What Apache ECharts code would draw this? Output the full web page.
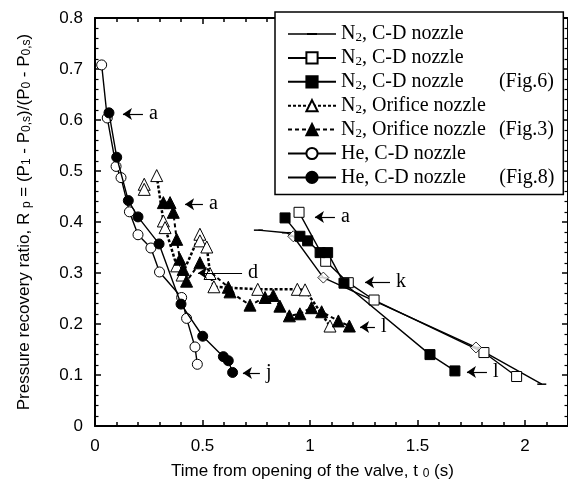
<!DOCTYPE html>
<html>
<head>
<meta charset="utf-8">
<script src="https://cdn.jsdelivr.net/npm/echarts@6/dist/echarts.min.js"></script>
<style>
  html, body { margin: 0; padding: 0; background: #fff; }
  #chart { width: 568px; height: 489px; }
</style>
</head>
<body>
<div id="chart"></div>
<script>
// N2, C-D nozzle (plain line)
var cdLineT = [0.76, 0.89, 0.922, 1.062, 1.772, 2.078];
var cdLineR = [0.384, 0.379, 0.372, 0.291, 0.154, 0.082];
// open diamonds sitting on the plain line
var diamondT = [0.922, 1.062, 1.772];
var diamondR = [0.372, 0.291, 0.154];
// N2, C-D nozzle, open squares
var cdOpenT = [0.949, 1.073, 1.178, 1.298, 1.809, 1.961];
var cdOpenR = [0.419, 0.323, 0.281, 0.247, 0.144, 0.097];
// N2, C-D nozzle (Fig.6), filled squares
var cdFig6T = [0.884, 0.953, 0.989, 1.047, 1.082, 1.158, 1.558, 1.674];
var cdFig6R = [0.408, 0.372, 0.363, 0.340, 0.340, 0.280, 0.140, 0.108];
// N2, Orifice nozzle, open triangles (null = break in the line)
var orOpenT = [0.229, 0.229, null, 0.287, 0.318, 0.326, 0.38, 0.405, 0.488, 0.488, 0.52, 0.535, 0.553, 0.757, 0.941, 0.977, 1.093];
var orOpenR = [0.474, 0.464, null, 0.491, 0.402, 0.389, 0.314, 0.296, 0.376, 0.363, 0.351, 0.299, 0.273, 0.268, 0.268, 0.267, 0.196];
// N2, Orifice nozzle (Fig.3), filled triangles
var orFig3T = [0.318, 0.349, 0.364, 0.38, 0.395, 0.41, 0.426, 0.488, 0.62, 0.628, 0.721, 0.791, 0.829, 0.86, 0.904, 0.953, 1.007, 1.054, 1.132, 1.183];
var orFig3R = [0.438, 0.438, 0.419, 0.366, 0.327, 0.307, 0.284, 0.32, 0.272, 0.263, 0.237, 0.252, 0.256, 0.235, 0.216, 0.22, 0.232, 0.224, 0.206, 0.196];
// He, C-D nozzle, open circles
var heOpenT = [0.031, 0.057, 0.098, 0.121, 0.16, 0.20, 0.26, 0.30, 0.403, 0.426, 0.465, 0.476];
var heOpenR = [0.708, 0.604, 0.509, 0.487, 0.420, 0.375, 0.349, 0.302, 0.252, 0.211, 0.155, 0.121];
// He, C-D nozzle (Fig.8), filled circles
var heFig8T = [0.065, 0.101, 0.155, 0.20, 0.298, 0.40, 0.501, 0.597, 0.62, 0.64];
var heFig8R = [0.614, 0.527, 0.442, 0.410, 0.357, 0.239, 0.176, 0.136, 0.128, 0.105];

// legend texts
var seriesNames = ['cdLine', 'cdOpen', 'cdFig6', 'orOpen', 'orFig3', 'heOpen', 'heFig8'];
var legendGas = ['N', 'N', 'N', 'N', 'N', 'He', 'He'];
var legendSub = ['2', '2', '2', '2', '2', '', ''];
var legendText = [', C-D nozzle', ', C-D nozzle', ', C-D nozzle', ', Orifice nozzle', ', Orifice nozzle', ', C-D nozzle', ', C-D nozzle'];
var legendFig = ['', '', '(Fig.6)', '', '(Fig.3)', '', '(Fig.8)'];

// arrow notes: letter, arrow tip t, arrow tail t, R
var noteLabel = ['a', 'a', 'd', 'a', 'k', 'l', 'l', 'j'];
var noteTipT = [0.130, 0.419, 0.479, 1.023, 1.256, 1.233, 1.730, 0.688];
var noteTailT = [0.223, 0.502, 0.684, 1.116, 1.372, 1.302, 1.823, 0.767];
var noteR = [0.612, 0.435, 0.300, 0.410, 0.282, 0.194, 0.106, 0.104];

// axis ticks
var xMax = 2.2, xMajor = 0.5, xMinor = 0.1;
var yMax = 0.8, yMajor = 0.1;

function pts(t, r) {
    var out = [];
    for (var i = 0; i < t.length; i++) {
        out.push(t[i] === null ? ['-', '-'] : [t[i], r[i]]);
    }
    return out;
}

var sans = 'Liberation Sans';
var serif = 'Liberation Serif';
var black = '#000';

var openItem = {color: '#fff', borderColor: black, borderWidth: 1};
var fillItem = {color: black, borderColor: black, borderWidth: 1};

function xAx(pos, interval, len, main) {
    return {
        type: 'value', position: pos, min: 0, max: xMax, interval: interval,
        axisLine: {show: main, onZero: false, lineStyle: {color: black, width: 2}},
        axisTick: {show: true, inside: true, length: len, lineStyle: {color: black, width: 1.5}},
        axisLabel: {show: false},
        splitLine: {show: false}
    };
}
function yAx(pos) {
    return {
        type: 'value', position: pos, min: 0, max: yMax, interval: yMajor,
        axisLine: {show: true, onZero: false, lineStyle: {color: black, width: 2}},
        axisTick: {show: true, inside: true, length: 6, lineStyle: {color: black, width: 1.5}},
        minorTick: {show: true, splitNumber: 5, length: 3.5, lineStyle: {color: black, width: 1.2}},
        axisLabel: {show: false},
        splitLine: {show: false}
    };
}

var xBottom = xAx('bottom', xMajor, 6, true);
xBottom.axisLabel = {show: true, color: black, fontFamily: sans, fontSize: 17, margin: 12, showMaxLabel: false};
xBottom.name = 'Time from opening of the valve, t {s|0} (s)';
xBottom.nameLocation = 'middle';
xBottom.nameGap = 37;
xBottom.nameTextStyle = {color: black, fontFamily: sans, fontSize: 17, padding: [0, 38, 0, 0],
    rich: {s: {fontFamily: sans, fontSize: 12, color: black, verticalAlign: 'bottom'}}};

var yLeft = yAx('left');
yLeft.axisLabel = {show: true, color: black, fontFamily: sans, fontSize: 17, margin: 12,
    formatter: function (v) { return v === 0 ? '0' : v.toFixed(1); }};
yLeft.name = 'Pressure recovery ratio, R {s|p} = (P{s|1} - P{s|0,s})/(P{s|0} - P{s|0,s})';
yLeft.nameLocation = 'middle';
yLeft.nameGap = 62;
yLeft.nameTextStyle = {color: black, fontFamily: sans, fontSize: 17,
    rich: {s: {fontFamily: sans, fontSize: 12, color: black, verticalAlign: 'bottom'}}};

var series = [
    {name: 'cdLine', type: 'line', data: pts(cdLineT, cdLineR), symbol: 'rect', symbolSize: [9, 1.5],
        lineStyle: {color: black, width: 1.4}, itemStyle: {color: black, borderWidth: 0}, z: 2},
    {name: 'cdOpen', type: 'line', data: pts(cdOpenT, cdOpenR), symbol: 'rect', symbolSize: 10,
        lineStyle: {color: black, width: 1.4}, itemStyle: openItem, z: 3},
    {name: 'cdFig6', type: 'line', data: pts(cdFig6T, cdFig6R), symbol: 'rect', symbolSize: 10,
        lineStyle: {color: black, width: 1.4}, itemStyle: fillItem, z: 4},
    {name: 'orOpen', type: 'line', data: pts(orOpenT, orOpenR), symbol: 'triangle', symbolSize: 12,
        connectNulls: false,
        lineStyle: {color: black, width: 2.5, type: [3, 2]}, itemStyle: openItem, z: 3},
    {name: 'orFig3', type: 'line', data: pts(orFig3T, orFig3R), symbol: 'triangle', symbolSize: 12,
        lineStyle: {color: black, width: 2, type: [4, 3]}, itemStyle: fillItem, z: 4},
    {name: 'heOpen', type: 'line', data: pts(heOpenT, heOpenR), symbol: 'circle', symbolSize: 10,
        lineStyle: {color: black, width: 1.4}, itemStyle: openItem, z: 3},
    {name: 'heFig8', type: 'line', data: pts(heFig8T, heFig8R), symbol: 'circle', symbolSize: 10,
        lineStyle: {color: black, width: 1.4}, itemStyle: fillItem, z: 4},
    {name: 'diamond', type: 'scatter', data: pts(diamondT, diamondR), symbol: 'diamond', symbolSize: 11,
        itemStyle: openItem, z: 3}
];

var notes = [];
for (var i = 0; i < noteLabel.length; i++) {
    notes.push([{name: noteLabel[i], coord: [noteTipT[i], noteR[i]]}, {coord: [noteTailT[i], noteR[i]]}]);
}
series.push({
    name: 'notes', type: 'line', data: [], z: 5,
    itemStyle: {color: black},
    markLine: {
        silent: true, animation: false,
        symbol: ['arrow', 'none'], symbolSize: 9,
        itemStyle: {color: black},
        lineStyle: {color: black, type: 'solid', width: 1.2},
        label: {show: true, position: 'end', distance: 6, formatter: '{b}', color: black,
            fontFamily: serif, fontSize: 20},
        data: notes
    }
});

var legendRich = {
    g: {fontFamily: serif, fontSize: 20, color: black, lineHeight: 20},
    s: {fontFamily: serif, fontSize: 13, color: black, lineHeight: 20, verticalAlign: 'bottom'},
    t: {fontFamily: serif, fontSize: 20, color: black, lineHeight: 20},
    wN: {fontFamily: serif, fontSize: 20, color: black, lineHeight: 20, width: 137},
    wHe: {fontFamily: serif, fontSize: 20, color: black, lineHeight: 20, width: 135},
    f: {fontFamily: serif, fontSize: 20, color: black, lineHeight: 20}
};

// first entry: a plain line with a small dash in the middle
var legendData = seriesNames.map(function (n, i) {
    return i === 0 ? {name: n, icon: 'path://M0,0H48V1.4H0Z M19,-0.4H29V1.8H19Z'} : {name: n};
});

var option = {
    animation: false,
    backgroundColor: '#fff',
    grid: {left: 95, top: 18, right: 0, bottom: 63},
    xAxis: [xBottom, xAx('bottom', xMinor, 4, false), xAx('top', xMajor, 6, true), xAx('top', xMinor, 4, false)],
    yAxis: [yLeft, yAx('right')],
    legend: {
        data: legendData,
        orient: 'vertical',
        left: 275, top: 12,
        padding: [12, 9, 7, 12],
        itemWidth: 48, itemHeight: 14, itemGap: 3.9,
        backgroundColor: '#fff',
        borderColor: black, borderWidth: 1.5,
        selectedMode: false,
        z: 10,
        textStyle: {fontFamily: serif, fontSize: 20, color: black, rich: legendRich},
        formatter: function (name) {
            var i = seriesNames.indexOf(name);
            var s = '{g|' + legendGas[i] + '}';
            if (legendSub[i]) s += '{s|' + legendSub[i] + '}';
            if (legendFig[i]) {
                s += '{' + (legendSub[i] ? 'wN' : 'wHe') + '|' + legendText[i] + '}{f|' + legendFig[i] + '}';
            } else {
                s += '{t|' + legendText[i] + '}';
            }
            return s;
        }
    },
    series: series
};

var myChart = echarts.init(document.getElementById('chart'), null, {renderer: 'canvas'});
myChart.setOption(option);
</script>
</body>
</html>
